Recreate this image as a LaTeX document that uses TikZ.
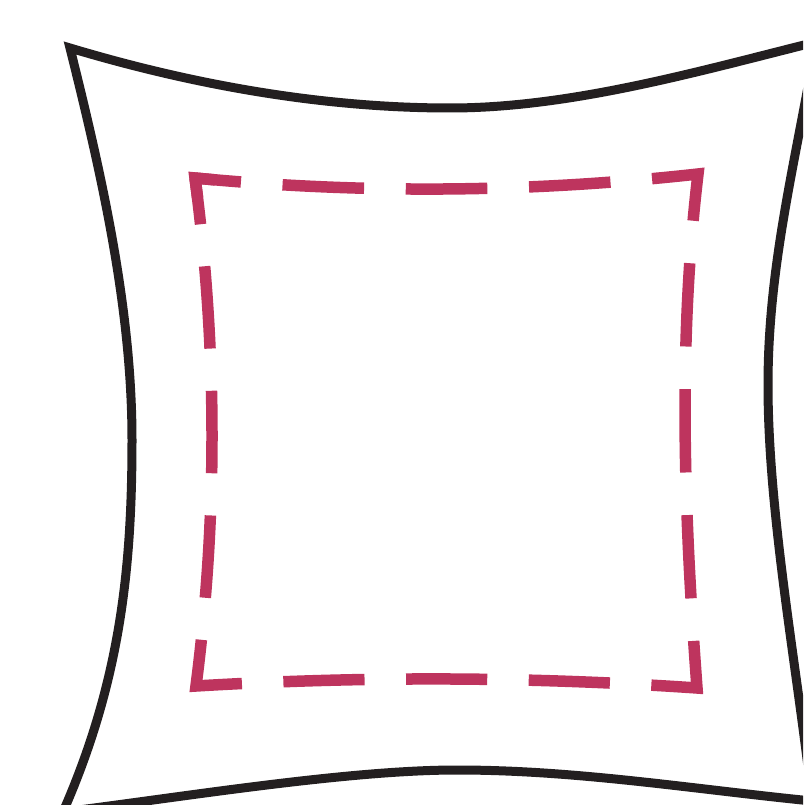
\documentclass[tikz,border=0pt]{standalone}
\definecolor{outline}{RGB}{35,31,32}
\definecolor{magenta}{RGB}{190,52,94}
\begin{document}
\begin{tikzpicture}[x=1pt,y=-1pt,
  outer/.style={draw=outline,line width=9pt,line join=miter},
  inner/.style={draw=magenta,line width=11.5pt,line join=miter,line cap=butt}]
\useasboundingbox (0,0) rectangle (803,805);
\clip (0,0) rectangle (803,805);
% outer pincushion square
\coordinate (oTL) at (70,48);
\coordinate (oTM) at (450,108);
\coordinate (oTR) at (816,42);
\coordinate (oRM) at (768,385);
\coordinate (oBR) at (812,801);
\coordinate (oBM) at (457,770);
\coordinate (oBL) at (63,812);
\coordinate (oLM) at (132,440);
\path[outer] (oTL) .. controls (190,84) and (320,108) .. (oTM)
  .. controls (570,108) and (696,72) .. (oTR)
  .. controls (795.6,162) and (768,265) .. (oRM)
  .. controls (768,515) and (797.7,671) .. (oBR)
  .. controls (692,789) and (577,770) .. (oBM)
  .. controls (347,770) and (183,797) .. (oBL)
  .. controls (120,682) and (132,570) .. (oLM)
  .. controls (132,310) and (102.5,178) .. cycle;
% inner dashed square
\coordinate (iTL) at (195,178);
\coordinate (iTR) at (698,174);
\coordinate (iBR) at (697,688);
\coordinate (iBL) at (196,686);
\path[inner,
  dash pattern=on 92.7pt off 41.7pt on 81.6pt off 41.7pt on 81.6pt off 41.7pt on 81.6pt off 41.7pt
  on 93.2pt off 42.6pt on 83.4pt off 42.6pt on 83.4pt off 42.6pt on 83.4pt off 42.6pt
  on 93.0pt off 41.5pt on 81.2pt off 41.5pt on 81.2pt off 41.5pt on 81.2pt off 41.5pt
  on 92.5pt off 42.2pt on 82.5pt off 42.2pt on 82.5pt off 42.2pt on 82.5pt off 42.2pt,
  dash phase=46.6pt]
  (iTL) .. controls (362.7,194) and (530.3,192.6) .. (iTR)
  .. controls (677.7,345.3) and (684.3,516.7) .. (iBR)
  .. controls (530,676.6) and (363,676) .. (iBL)
  .. controls (217.7,516.7) and (217.3,347.3) .. (iTL);
\coordinate (cA) at (197.6,197.8);
\coordinate (cB) at (214.9,179.9);
\path[inner] (cA) -- (iTL) -- (cB);
\end{tikzpicture}
\end{document}
